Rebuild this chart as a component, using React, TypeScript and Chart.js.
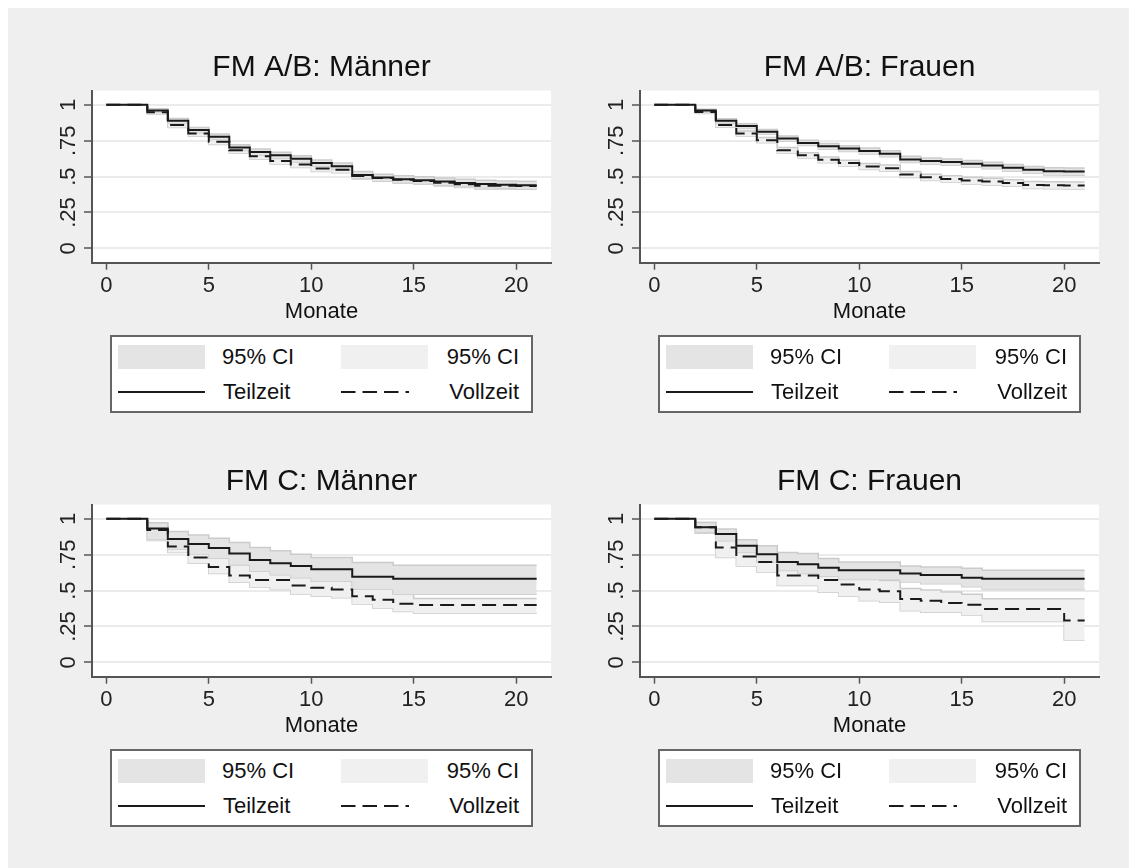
import React, { useEffect, useRef } from "react";
import { Chart, registerables } from "chart.js";

Chart.register(...registerables);

const FONT = '"Liberation Sans", Arial, Helvetica, sans-serif';

// ---- data ----
const monate = [0, 1, 2, 3, 4, 5, 6, 7, 8, 9, 10, 11, 12, 13, 14, 15, 16, 17, 18, 19, 20, 21];
const xTicks = [0, 5, 10, 15, 20];
const xTickLabels = ["0", "5", "10", "15", "20"];
const yTicks = [0, 0.25, 0.5, 0.75, 1];
const yTickLabels = ["0", ".25", ".5", ".75", "1"];
const xAxisTitle = "Monate";
const titles = ["FM A/B: Männer", "FM A/B: Frauen", "FM C: Männer", "FM C: Frauen"];
const legendCI = "95% CI";
const legendTZ = "Teilzeit";
const legendVZ = "Vollzeit";

// FM A/B: Männer
const abM_tz = [1, 1, 0.96, 0.889, 0.824, 0.777, 0.702, 0.671, 0.648, 0.624, 0.594, 0.572, 0.512, 0.493, 0.482, 0.475, 0.465, 0.456, 0.448, 0.444, 0.44, 0.44];
const abM_tzHi = [1, 1, 0.972, 0.905, 0.842, 0.796, 0.722, 0.692, 0.669, 0.646, 0.616, 0.595, 0.535, 0.516, 0.506, 0.499, 0.49, 0.481, 0.474, 0.47, 0.467, 0.467];
const abM_tzLo = [1, 1, 0.946, 0.872, 0.806, 0.758, 0.682, 0.65, 0.627, 0.602, 0.572, 0.549, 0.489, 0.47, 0.458, 0.451, 0.44, 0.431, 0.422, 0.418, 0.413, 0.413];
const abM_vz = [1, 1, 0.948, 0.859, 0.8, 0.742, 0.683, 0.641, 0.608, 0.585, 0.556, 0.548, 0.505, 0.49, 0.478, 0.47, 0.457, 0.446, 0.437, 0.436, 0.435, 0.435];
const abM_vzHi = [1, 1, 0.96, 0.876, 0.818, 0.761, 0.702, 0.661, 0.628, 0.606, 0.577, 0.569, 0.526, 0.511, 0.5, 0.492, 0.479, 0.468, 0.46, 0.459, 0.458, 0.458];
const abM_vzLo = [1, 1, 0.936, 0.842, 0.782, 0.723, 0.664, 0.621, 0.588, 0.564, 0.535, 0.527, 0.484, 0.469, 0.456, 0.448, 0.435, 0.424, 0.414, 0.413, 0.412, 0.412];

// FM A/B: Frauen
const abF_tz = [1, 1, 0.96, 0.889, 0.852, 0.812, 0.765, 0.735, 0.711, 0.695, 0.678, 0.66, 0.62, 0.608, 0.601, 0.589, 0.577, 0.561, 0.547, 0.537, 0.535, 0.535];
const abF_tzHi = [1, 1, 0.97, 0.903, 0.868, 0.829, 0.783, 0.754, 0.731, 0.715, 0.699, 0.681, 0.642, 0.63, 0.623, 0.612, 0.6, 0.585, 0.571, 0.562, 0.56, 0.56];
const abF_tzLo = [1, 1, 0.95, 0.875, 0.836, 0.795, 0.747, 0.716, 0.691, 0.675, 0.657, 0.639, 0.598, 0.586, 0.579, 0.566, 0.554, 0.537, 0.523, 0.512, 0.51, 0.51];
const abF_vz = [1, 1, 0.951, 0.859, 0.8, 0.754, 0.683, 0.648, 0.617, 0.594, 0.57, 0.559, 0.514, 0.495, 0.484, 0.472, 0.465, 0.455, 0.441, 0.44, 0.438, 0.438];
const abF_vzHi = [1, 1, 0.962, 0.874, 0.817, 0.772, 0.702, 0.667, 0.637, 0.614, 0.591, 0.58, 0.535, 0.517, 0.506, 0.495, 0.488, 0.478, 0.465, 0.464, 0.462, 0.462];
const abF_vzLo = [1, 1, 0.94, 0.844, 0.783, 0.736, 0.664, 0.629, 0.597, 0.574, 0.549, 0.538, 0.493, 0.473, 0.462, 0.449, 0.442, 0.432, 0.417, 0.416, 0.414, 0.414];

// FM C: Männer
const cM_tz = [1, 1, 0.932, 0.859, 0.824, 0.796, 0.758, 0.714, 0.69, 0.671, 0.648, 0.648, 0.596, 0.596, 0.582, 0.582, 0.582, 0.582, 0.582, 0.582, 0.582, 0.582];
const cM_tzHi = [1, 1, 0.972, 0.911, 0.887, 0.864, 0.836, 0.8, 0.777, 0.753, 0.73, 0.73, 0.695, 0.695, 0.676, 0.676, 0.676, 0.676, 0.676, 0.676, 0.676, 0.676];
const cM_tzLo = [1, 1, 0.86, 0.79, 0.755, 0.725, 0.68, 0.635, 0.61, 0.59, 0.565, 0.565, 0.51, 0.51, 0.475, 0.475, 0.475, 0.475, 0.475, 0.475, 0.475, 0.475];
const cM_vz = [1, 1, 0.922, 0.808, 0.73, 0.664, 0.606, 0.573, 0.573, 0.535, 0.519, 0.507, 0.46, 0.437, 0.408, 0.399, 0.399, 0.399, 0.399, 0.399, 0.399, 0.399];
const cM_vzHi = [1, 1, 0.965, 0.87, 0.8, 0.74, 0.68, 0.65, 0.645, 0.615, 0.6, 0.59, 0.54, 0.515, 0.48, 0.445, 0.445, 0.445, 0.445, 0.445, 0.445, 0.445];
const cM_vzLo = [1, 1, 0.85, 0.765, 0.69, 0.62, 0.559, 0.525, 0.507, 0.476, 0.46, 0.45, 0.406, 0.378, 0.355, 0.343, 0.343, 0.343, 0.343, 0.343, 0.343, 0.343];

// FM C: Frauen
const cF_tz = [1, 1, 0.941, 0.894, 0.812, 0.754, 0.7, 0.683, 0.66, 0.641, 0.641, 0.641, 0.62, 0.608, 0.608, 0.589, 0.582, 0.582, 0.582, 0.582, 0.582, 0.582];
const cF_tzHi = [1, 1, 0.975, 0.93, 0.855, 0.812, 0.765, 0.758, 0.723, 0.7, 0.7, 0.7, 0.671, 0.664, 0.664, 0.655, 0.641, 0.641, 0.641, 0.641, 0.641, 0.641];
const cF_tzLo = [1, 1, 0.906, 0.848, 0.765, 0.7, 0.64, 0.62, 0.6, 0.578, 0.578, 0.578, 0.56, 0.548, 0.548, 0.527, 0.507, 0.507, 0.507, 0.507, 0.507, 0.507];
const cF_vz = [1, 1, 0.941, 0.8, 0.737, 0.7, 0.606, 0.606, 0.573, 0.542, 0.507, 0.495, 0.441, 0.43, 0.413, 0.401, 0.371, 0.371, 0.371, 0.371, 0.291, 0.291];
const cF_vzHi = [1, 1, 0.975, 0.87, 0.81, 0.775, 0.675, 0.675, 0.645, 0.615, 0.585, 0.57, 0.515, 0.505, 0.49, 0.475, 0.444, 0.444, 0.444, 0.444, 0.444, 0.444];
const cF_vzLo = [1, 1, 0.9, 0.73, 0.671, 0.629, 0.535, 0.535, 0.488, 0.46, 0.43, 0.418, 0.359, 0.35, 0.35, 0.33, 0.284, 0.284, 0.284, 0.284, 0.155, 0.155];

// ---- styles ----
const BG = "#efefef";
const TZ_FILL = "#e4e4e4";
const VZ_FILL = "#f0f0f0";
const CI_EDGE = "#cbcbcb";
const LINE = "#1a1a1a";
const AXIS = "#555555";

const pts = (vals: number[]) => vals.map((y, i) => ({ x: monate[i], y }));

const whiteArea = {
  id: "whiteArea",
  beforeDraw(chart: any) {
    const { ctx, chartArea } = chart;
    ctx.save();
    ctx.fillStyle = "#ffffff";
    ctx.fillRect(chartArea.left, chartArea.top, chartArea.right - chartArea.left, chartArea.bottom - chartArea.top);
    ctx.restore();
  },
};

type PanelProps = {
  title: string;
  tz: number[]; tzHi: number[]; tzLo: number[];
  vz: number[]; vzHi: number[]; vzLo: number[];
  left: number; top: number;
};

function Panel(p: PanelProps) {
  const ref = useRef<HTMLCanvasElement | null>(null);
  useEffect(() => {
    if (!ref.current) return;
    const base = { stepped: true, pointRadius: 0, pointHoverRadius: 0 };
    const chart = new Chart(ref.current, {
      type: "line",
      data: {
        datasets: [
          { ...base, label: legendTZ, data: pts(p.tz), borderColor: LINE, borderWidth: 2, fill: false, order: 0 },
          { ...base, label: legendVZ, data: pts(p.vz), borderColor: LINE, borderWidth: 2, borderDash: [14, 7], fill: false, order: 0 },
          { ...base, label: "TZ hi", data: pts(p.tzHi), borderColor: CI_EDGE, borderWidth: 1.5, backgroundColor: TZ_FILL, fill: "+1", order: 1 },
          { ...base, label: "TZ lo", data: pts(p.tzLo), borderColor: CI_EDGE, borderWidth: 1.5, fill: false, order: 1 },
          { ...base, label: "VZ hi", data: pts(p.vzHi), borderColor: CI_EDGE, borderWidth: 1.5, backgroundColor: VZ_FILL, fill: "+1", order: 2 },
          { ...base, label: "VZ lo", data: pts(p.vzLo), borderColor: CI_EDGE, borderWidth: 1.5, fill: false, order: 2 },
        ],
      } as any,
      options: {
        animation: false,
        responsive: false,
        devicePixelRatio: 1,
        layout: { padding: { left: 0, right: 5, top: 0, bottom: 0 } },
        plugins: {
          legend: { display: false },
          tooltip: { enabled: false },
          title: {
            display: true,
            text: p.title,
            fullSize: false,
            color: "#111",
            font: { family: FONT, size: 30, weight: "normal", lineHeight: 1.2 },
            padding: { top: 42, bottom: 4.5 },
          },
        },
        scales: {
          x: {
            type: "linear",
            min: -0.7,
            max: 21.7,
            afterBuildTicks: (s: any) => { s.ticks = xTicks.map((v) => ({ value: v })); },
            afterFit: (s: any) => { s.height = 75.3; s.paddingLeft = 0; s.paddingRight = 0; s.paddingTop = 0; s.paddingBottom = 0; },
            ticks: {
              callback: (_v: any, i: number) => xTickLabels[i],
              font: { family: FONT, size: 22 },
              color: "#222",
              padding: 3.4,
              minRotation: 0,
              maxRotation: 0,
              autoSkip: false,
            },
            grid: { display: true, drawOnChartArea: false, drawTicks: true, tickLength: 7, tickColor: AXIS, tickWidth: 1.5 },
            border: { display: true, color: AXIS, width: 2 },
            title: { display: true, text: xAxisTitle, color: "#111", font: { family: FONT, size: 22 }, padding: { top: 0, bottom: 13.3 } },
          },
          y: {
            type: "linear",
            min: -0.1,
            max: 1.1,
            afterBuildTicks: (s: any) => { s.ticks = yTicks.map((v) => ({ value: v })); },
            afterFit: (s: any) => { s.width = 84; s.paddingLeft = 0; s.paddingRight = 0; s.paddingTop = 0; s.paddingBottom = 0; },
            ticks: {
              callback: (_v: any, i: number) => yTickLabels[i],
              font: { family: FONT, size: 22 },
              color: "#222",
              padding: 0,
              minRotation: 90,
              maxRotation: 90,
              crossAlign: "center",
              autoSkip: false,
            },
            grid: { color: "#ebebeb", lineWidth: 2, drawTicks: true, tickLength: 8, tickColor: AXIS, tickWidth: 1.5 },
            border: { display: true, color: AXIS, width: 2 },
          },
        },
      } as any,
      plugins: [whiteArea],
    });
    return () => chart.destroy();
  }, []);
  return (
    <canvas
      ref={ref}
      width={548}
      height={330}
      style={{ position: "absolute", left: p.left, top: p.top, width: 548, height: 330 }}
    />
  );
}

function Legend({ left, top }: { left: number; top: number }) {
  const txt = { position: "absolute" as const, height: 26, lineHeight: "26px", whiteSpace: "nowrap" as const };
  return (
    <div
      style={{
        position: "absolute", left, top, width: 423, height: 78, boxSizing: "border-box",
        border: "2px solid #666", background: "#fff", fontFamily: FONT, fontSize: 22, color: "#111",
      }}
    >
      <div style={{ position: "absolute", left: 6, top: 8, width: 87, height: 24, background: TZ_FILL }} />
      <div style={{ ...txt, left: 110, top: 7 }}>{legendCI}</div>
      <div style={{ position: "absolute", left: 229, top: 8, width: 87, height: 24, background: VZ_FILL }} />
      <div style={{ ...txt, right: 12, top: 7 }}>{legendCI}</div>
      <div style={{ position: "absolute", left: 6, top: 54, width: 87, height: 2, background: LINE }} />
      <div style={{ ...txt, left: 111, top: 42 }}>{legendTZ}</div>
      <svg style={{ position: "absolute", left: 229, top: 50 }} width={87} height={10}>
        <line x1={0} y1={5} x2={87} y2={5} stroke={LINE} strokeWidth={2} strokeDasharray="14.5 7 14.5 7 14.5 7 3.5 100" />
      </svg>
      <div style={{ ...txt, right: 12, top: 42 }}>{legendVZ}</div>
    </div>
  );
}

export default function App() {
  return (
    <div style={{ position: "fixed", left: 8, top: 8, right: 0, bottom: 0, background: BG, overflow: "hidden" }}>
      <Panel title={titles[0]} tz={abM_tz} tzHi={abM_tzHi} tzLo={abM_tzLo} vz={abM_vz} vzHi={abM_vzHi} vzLo={abM_vzLo} left={0} top={0} />
      <Panel title={titles[1]} tz={abF_tz} tzHi={abF_tzHi} tzLo={abF_tzLo} vz={abF_vz} vzHi={abF_vzHi} vzLo={abF_vzLo} left={548} top={0} />
      <Panel title={titles[2]} tz={cM_tz} tzHi={cM_tzHi} tzLo={cM_tzLo} vz={cM_vz} vzHi={cM_vzHi} vzLo={cM_vzLo} left={0} top={414} />
      <Panel title={titles[3]} tz={cF_tz} tzHi={cF_tzHi} tzLo={cF_tzLo} vz={cF_vz} vzHi={cF_vzHi} vzLo={cF_vzLo} left={548} top={414} />
      <Legend left={102} top={327} />
      <Legend left={650} top={327} />
      <Legend left={102} top={741} />
      <Legend left={650} top={741} />
    </div>
  );
}
